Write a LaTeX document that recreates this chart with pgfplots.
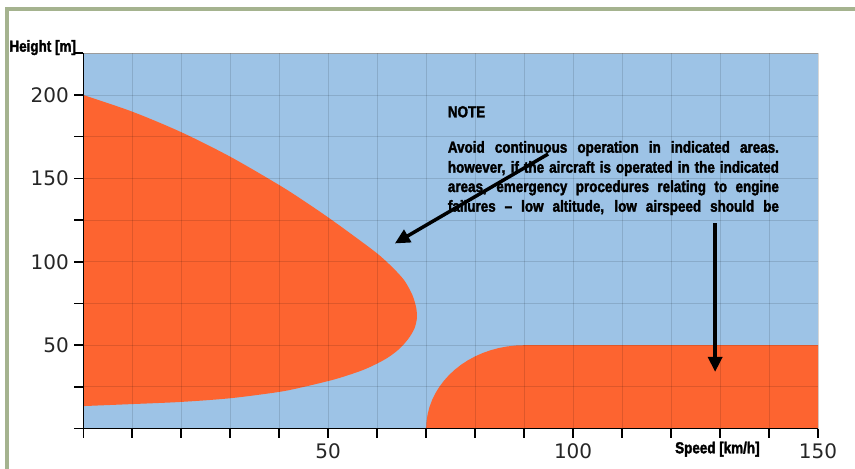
\documentclass[border=0pt]{standalone}
\usepackage{fontspec}
\setmainfont{DejaVu Sans}
\newfontfamily\impact{Liberation Sans}[UprightFont=* Bold, FakeStretch=0.84, FakeBold=2]
\usepackage{pgfplots}
\pgfplotsset{compat=1.18}
\usetikzlibrary{arrows.meta}
\definecolor{sky}{HTML}{9DC3E6}
\definecolor{burn}{HTML}{FD6430}
\definecolor{frame}{HTML}{A5B38F}

\begin{document}
\begin{tikzpicture}[x=1pt,y=1pt]
\useasboundingbox (0,0) rectangle (855,469);
\fill[white] (0,0) rectangle (855,469);
\draw[frame, line width=4pt] (7.2,0) -- (7.2,460) -- (855,460);

\begin{axis}[
  at={(83.3pt,40.4pt)}, anchor=south west,
  scale only axis, width=734.7pt, height=375.3pt,
  xmin=0, xmax=150, ymin=0, ymax=225,
  axis x line*=bottom, axis y line*=left,
  axis line style={-, black, line width=1.6pt},
  axis background/.style={fill=sky},
  axis on top,
  xtick={0,10,...,150}, xticklabels={,,,,,50,,,,,100,,,,,150},
  ytick={0,25,...,225}, yticklabels={,,50,,100,,150,,200,},
  tick align=outside, major tick length=9pt,
  tick style={black, line width=1.6pt},
  grid=major, major grid style={black, opacity=0.12, line width=0.8pt},
  tick label style={font=\fontsize{20}{24}\selectfont, text=black!85},
  xticklabel style={yshift=-3pt},
  yticklabel style={xshift=-2pt},
]
% area to avoid at low speed
\addplot[fill=burn, draw=none, smooth] coordinates {
  (0,200) (10,190) (20,177.7) (30,163) (40,146) (45,136.6) (50,126.6)
  (55,116) (60,105) (63,97) (65.5,89) (67.2,80) (68,72) (68.1,66)
  (67.6,60) (66.4,54) (64.6,48) (62.4,43) (60,39) (57,35) (53,31)
  (50,28.5) (45,25) (40,22) (30,18.2) (20,16) (10,14.7) (0,13.5)
};
% area to avoid at low height
\addplot[fill=burn, draw=none] coordinates {
  (70,0) (70.08,4.36) (70.30,8.68) (70.68,12.94) (71.21,17.10) (71.87,21.13)
  (72.68,25) (73.62,28.68) (74.68,32.14) (75.86,35.36) (77.14,38.30)
  (78.53,40.96) (80,43.30) (81.55,45.32) (83.16,46.98) (84.82,48.30)
  (86.53,49.24) (88.26,49.81) (90,50) (150,50) (150,0)
};
\addplot[black, line width=3.5pt, -{Triangle[length=15pt, width=14pt]}]
  coordinates {(94.9,164.6) (63.6,111)};
\addplot[black, line width=3.5pt, -{Triangle[length=15pt, width=14pt]}]
  coordinates {(129,123) (129,34)};
\draw[gray!60, line width=0.8pt] (rel axis cs:0,1) -- (rel axis cs:1,1) -- (rel axis cs:1,0);
\end{axis}

\node[anchor=base west, inner sep=0] at (9.3,417.3) {\impact\fontsize{16}{19}\selectfont Height [m]};
\node[anchor=base west, inner sep=0] at (675,15.7) {\impact\fontsize{16}{19}\selectfont Speed [km/h]};

\begin{scope}[every node/.style={anchor=base west, inner sep=0, font=\impact\fontsize{16}{19}\selectfont}]
\node at (447.7,351.7) {NOTE};
\node at (447.7,316.3) {\makebox[331pt][s]{Avoid continuous operation in indicated areas.}};
\node at (447.7,296.3) {\makebox[331pt][s]{however, if the aircraft is operated in the indicated}};
\node at (447.7,277.0) {\makebox[331pt][s]{areas, emergency procedures relating to engine}};
\node at (447.7,257.3) {\makebox[331pt][s]{failures – low altitude, low airspeed should be}};
\end{scope}
\end{tikzpicture}
\end{document}
